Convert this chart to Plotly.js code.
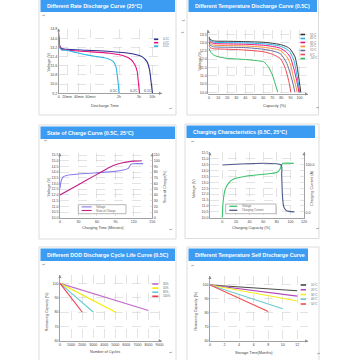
<!DOCTYPE html>
<html><head><meta charset="utf-8">
<script src="https://cdn.plot.ly/plotly-3.0.1.min.js"></script>
<style>html,body{margin:0;padding:0;background:#fff}#c{width:360px;height:360px}</style>
</head><body><div id="c"></div>
<script>
// ---------- Panel 1: Different Rate Discharge Curve (25°C) ----------
const rateLabels = ['0.1C', '0.2C', '0.5C'];
const rateT01 = [0, 1, 3, 8.5, 30, 55, 80, 89, 94.4, 97.2, 98.6, 100.3];
const rateV01 = [14.2, 13.4, 13.1, 13.04, 12.95, 12.84, 12.63, 12.4, 11.96, 11.24, 10.36, 9.2];
const rateT02 = [0, 1, 3, 10, 30, 55, 70, 77, 81.6, 84, 85, 86.4];
const rateV02 = [14.5, 13.3, 13.05, 12.95, 12.84, 12.69, 12.46, 12.17, 11.67, 11.1, 10.36, 9.2];
const rateT05 = [0, 1, 3, 8.5, 19, 30, 40.7, 51.4, 58.5, 61.3, 62.8, 64, 64.6];
const rateV05 = [14.0, 13.2, 12.98, 12.95, 12.75, 12.55, 12.4, 12.25, 11.96, 11.5, 10.65, 9.8, 9.2];
const rateTickVals = [0, 9, 21.5, 34, 64.5, 86, 100];
const rateTickText = ['0', '20min', '40min', '60min', '2h', '5h', '10h'];

// ---------- Panel 2: Different Temperature Discharge Curve (0.5C) ----------
const tempLabels = ['55°C', '45°C', '35°C', '25°C', '15°C', '0°C', '-10°C'];
const cap55 = [0, 1, 5, 20, 40, 60, 70, 79, 86, 90, 95, 97, 99, 101.5];
const v55 = [13.35, 13.2, 13.1, 13.08, 13.06, 13.02, 12.96, 12.88, 12.75, 12.6, 12.15, 11.7, 11.0, 10.0];
const cap45 = [0, 1, 5, 20, 40, 60, 70, 79, 86, 90, 94, 97, 100.5];
const v45 = [13.3, 13.12, 13.03, 13.0, 12.98, 12.93, 12.87, 12.78, 12.6, 12.4, 11.9, 11.1, 10.0];
const cap35 = [0, 1, 5, 20, 40, 60, 70, 79, 86, 90, 94, 97, 99.5];
const v35 = [13.25, 13.05, 12.95, 12.92, 12.9, 12.84, 12.77, 12.66, 12.4, 12.1, 11.4, 10.7, 10.0];
const cap25 = [0, 1, 5, 20, 40, 60, 70, 79, 86, 90, 93, 95.5, 97.5];
const v25 = [13.15, 12.95, 12.85, 12.82, 12.8, 12.72, 12.64, 12.52, 12.15, 11.7, 11.0, 10.5, 10.0];
const cap15 = [0, 1, 5, 20, 40, 60, 70, 79, 86, 90, 93, 95];
const v15 = [13.05, 12.85, 12.75, 12.72, 12.7, 12.6, 12.5, 12.33, 11.75, 11.1, 10.5, 10.0];
const cap0 = [0, 1, 5, 20, 40, 60, 70, 79, 84, 86, 88.5, 90.5];
const v0 = [12.85, 12.7, 12.63, 12.6, 12.55, 12.45, 12.3, 12.03, 11.5, 11.15, 10.6, 10.0];
const capM10 = [0, 2, 5, 10, 20, 40, 55, 60, 63, 66, 70, 73, 76];
const vM10 = [12.65, 12.4, 12.25, 12.15, 12.05, 11.98, 11.9, 11.85, 11.72, 11.5, 11.05, 10.55, 10.0];

// ---------- Panel 3: State of Charge Curve (0.5C, 25°C) ----------
const socLabels = ['Voltage', 'State of Charge'];
const socTimeV = [0, 1, 3, 5.4, 10.8, 30, 60, 86.6, 103, 111, 115, 119, 135];
const socVolt = [12.57, 13.0, 13.4, 13.6, 13.71, 13.83, 13.95, 14.04, 14.18, 14.33, 14.68, 14.74, 14.74];
const socTimeS = [0, 30, 60, 80, 90, 100, 110, 120, 133];
const socPct = [40, 58, 76, 88, 93, 96, 98, 99.3, 100];

// ---------- Panel 4: Charging Characteristics (0.5C, 25°C) ----------
const chgLabels = ['Voltage', 'Charging Current'];
const chgCapV = [0, 0.8, 1.5, 4, 9, 16, 36, 60, 80, 84, 86, 87, 89, 105];
const chgVolt = [10.0, 11.0, 11.5, 12.36, 12.93, 13.27, 13.55, 13.7, 13.84, 14.06, 14.3, 14.5, 14.63, 14.63];
const chgCapI = [0, 86.5, 87.2, 87.8, 88.5, 90.2, 92, 94.1, 98, 106];
const chgCurr = [100, 100, 80, 54, 32, 12, 7, 3.5, 2, 1];

// ---------- Panel 5: Different DOD Discharge Cycle Life Curve (0.5C) ----------
const dodLabels = ['30%', '50%', '80%', '100%'];
const dodCycles = [[0, 8000], [0, 5000], [0, 3000], [0, 2000]];
const dodCap = [[100, 81], [100, 80], [100, 80], [100, 80]];

// ---------- Panel 6: Different Temperature Self Discharge Curve ----------
const sdLabels = ['10°C', '20°C', '30°C', '40°C', '50°C'];
const sdMonths = [[0, 12], [0, 12], [0, 12], [0, 10], [0, 8]];
const sdCap = [[100, 95.9], [100, 92], [100, 88.6], [100, 83], [100, 81.1]];

// ---------- helpers ----------
const P = v => v / 360, Q = v => 1 - v / 360;
const FONT = 'Liberation Sans, Arial, sans-serif';
const TICKF = {family: FONT, size: 3.6, color: '#444'};
const AXC = '#8a8a8a';
function xax(x0, x1, yBottom, anchor, extra) {
  return Object.assign({domain: [P(x0), P(x1)], anchor: anchor, showline: true, linecolor: AXC, linewidth: 0.8,
    zeroline: false, showgrid: true, gridcolor: '#c8c8c8', gridwidth: 0.5, griddash: 'dash', ticks: '',
    tickfont: TICKF, tickangle: 0, fixedrange: true}, extra);
}
function yax(yTop, yBottom, anchor, extra) {
  return Object.assign({domain: [Q(yBottom), Q(yTop)], anchor: anchor, showline: true, linecolor: AXC, linewidth: 0.8,
    zeroline: false, showgrid: true, gridcolor: '#c8c8c8', gridwidth: 0.5, griddash: 'dash', ticks: '',
    tickfont: TICKF, fixedrange: true}, extra);
}
function ln(x, y, color, xa, ya, w, name) {
  return {x: x, y: y, type: 'scatter', mode: 'lines', xaxis: xa, yaxis: ya, name: name, showlegend: false,
    hoverinfo: 'skip', line: {color: color, width: w || 1.1, shape: 'spline', smoothing: 0.6}};
}
const shapes = [], annotations = [];
function card(x0, y0, x1, y1, hx1, title) {
  shapes.push({type: 'rect', xref: 'paper', yref: 'paper', x0: P(x0), x1: P(x1), y0: Q(y1), y1: Q(y0),
    line: {color: '#dcdcdc', width: 1}, fillcolor: 'rgba(0,0,0,0)', layer: 'below'});
  shapes.push({type: 'rect', xref: 'paper', yref: 'paper', x0: P(x0 + 1.5), x1: P(hx1), y0: Q(y0 + 14), y1: Q(y0 + 1.5),
    line: {width: 0}, fillcolor: '#3b9cf2', layer: 'below'});
  annotations.push({xref: 'paper', yref: 'paper', x: P(x0 + 5.5), y: Q(y0 + 8), xanchor: 'left', yanchor: 'middle',
    text: '<b>' + title + '</b>', showarrow: false, font: {family: FONT, size: 5.3, color: '#fff'}});
}
function arrowUp(x, y) {
  shapes.push({type: 'path', xref: 'paper', yref: 'paper',
    path: `M${P(x - 1.6)},${Q(y + 3)} L${P(x)},${Q(y)} L${P(x + 1.6)},${Q(y + 3)} Z`, fillcolor: AXC, line: {width: 0}});
}
function arrowRight(x, y) {
  shapes.push({type: 'path', xref: 'paper', yref: 'paper',
    path: `M${P(x - 3)},${Q(y - 1.6)} L${P(x)},${Q(y)} L${P(x - 3)},${Q(y + 1.6)} Z`, fillcolor: AXC, line: {width: 0}});
}
function txt(x, y, s, size, color, angle, anchor) {
  annotations.push({xref: 'paper', yref: 'paper', x: P(x), y: Q(y), text: s, showarrow: false, textangle: angle || 0,
    xanchor: anchor || 'center', yanchor: 'middle', font: {family: FONT, size: size, color: color || '#444'}});
}
function legItem(x0, x1, y, color, label, w) {
  shapes.push({type: 'line', xref: 'paper', yref: 'paper', x0: P(x0), x1: P(x1), y0: Q(y), y1: Q(y),
    line: {color: color, width: w || 1.6}});
  txt(x1 + 2.5, y, label, 2.8, '#666', 0, 'left');
}

const traces = [];
// Panel 1
const rateColors = ['#2e2f8f', '#e8137f', '#2cb5e8'];
traces.push(ln(rateT01, rateV01, rateColors[0], 'x', 'y', 1.1, rateLabels[0]));
traces.push(ln(rateT02, rateV02, rateColors[1], 'x', 'y', 1.1, rateLabels[1]));
traces.push(ln(rateT05, rateV05, rateColors[2], 'x', 'y', 1.1, rateLabels[2]));
// Panel 2
const tempColors = ['#333333', '#1fb2e8', '#e6157f', '#f6902a', '#5f6ea0', '#f0454f', '#2dbb5e'];
const tempCaps = [cap55, cap45, cap35, cap25, cap15, cap0, capM10];
const tempVs = [v55, v45, v35, v25, v15, v0, vM10];
tempCaps.forEach((c, i) => traces.push(ln(c, tempVs[i], tempColors[i], 'x2', 'y2', 1.0, tempLabels[i])));
// Panel 3
const socColors = ['#8a7bea', '#c2208a'];
traces.push(ln(socTimeV, socVolt, socColors[0], 'x3', 'y3', 1.1, socLabels[0]));
traces.push(ln(socTimeS, socPct, socColors[1], 'x3', 'y7', 1.1, socLabels[1]));
// Panel 4
const chgColors = ['#39c46c', '#4d5b8c'];
traces.push(ln(chgCapV, chgVolt, chgColors[0], 'x4', 'y4', 1.1, chgLabels[0]));
traces.push(ln(chgCapI, chgCurr, chgColors[1], 'x4', 'y8', 1.1, chgLabels[1]));
// Panel 5
const dodColors = ['#c26ac8', '#f5ea00', '#62cbd2', '#ee3a48'];
dodCycles.forEach((c, i) => traces.push(ln(c, dodCap[i], dodColors[i], 'x5', 'y5', 1.1, dodLabels[i])));
// Panel 6
const sdColors = ['#4a4a4a', '#b04ab8', '#f7ec1a', '#6ccad0', '#f24a4a'];
sdMonths.forEach((m, i) => traces.push(ln(m, sdCap[i], sdColors[i], 'x6', 'y6', 1.1, sdLabels[i])));

// cards & titles
card(39, -2, 176, 115, 175, 'Different Rate Discharge Curve (25°C)');
card(187, -2, 318.5, 115, 317, 'Different Temperature Discharge Curve (0.5C)');
card(39, 125, 176, 239, 175, 'State of Charge Curve (0.5C, 25°C)');
card(185, 124, 319, 238.5, 315, 'Charging Characteristics (0.5C, 25°C)');
card(39, 247, 176, 370, 175, 'Different DOD Discharge Cycle Life Curve (0.5C)');
card(187, 247, 319, 370, 308, 'Different Temperature Self Discharge Curve');

// arrows
arrowUp(58.7, 28.5); arrowRight(162, 93.3);
arrowUp(208.3, 30); arrowRight(308, 94);
arrowUp(60, 153.3); arrowUp(152.3, 153.3);
arrowUp(210, 152.3); arrowUp(304, 152.3);
arrowUp(60, 275); arrowRight(161.7, 340.7);
arrowUp(210, 276); arrowRight(308.2, 341);

// axis titles
txt(48.5, 62, 'Voltage (V)', 3.8, '#444', -90);
txt(105, 105.5, 'Discharge Time', 4, '#444');
txt(199.5, 61, 'Voltage (V)', 3.8, '#444', -90);
txt(275, 105.5, 'Capacity (%)', 4, '#444');
txt(48.5, 187, 'Voltage (V)', 3.8, '#444', -90);
txt(165, 187, 'State of Charge(%)', 3.8, '#444', -90);
txt(103, 228, 'Charging Time (Minutes)', 3.8, '#444');
txt(194, 188, 'Voltage (V)', 3.8, '#444', -90);
txt(312, 188, 'Charging Current (A)', 3.8, '#444', -90);
txt(251, 228, 'Charging Capacity (%)', 3.8, '#444');
txt(46.7, 311.5, 'Remaining Capacity (%)', 3.6, '#444', -90);
txt(105, 351.7, 'Number of Cycles', 3.8, '#444');
txt(195, 311.5, 'Remaining Capacity (%)', 3.6, '#444', -90);
txt(254, 353.3, 'Storage Time(Months)', 3.8, '#444');

// curve labels panel 1
const rateEndLabels = ['0.5C', '0.2C', '0.1C'];
const rateEndPos = [59.5, 80.9, 95.2];
rateEndLabels.forEach((s, i) => annotations.push({xref: 'x', yref: 'y', x: rateEndPos[i], y: 9.38, text: s, showarrow: false,
  xanchor: 'center', yanchor: 'middle', font: {family: FONT, size: 3.6, color: '#444'}}));

// legends
rateLabels.forEach((s, i) => legItem(154, 158.3, 39.3 + i * 3.4, rateColors[i], s));
tempLabels.forEach((s, i) => legItem(300.5, 305, 34.5 + i * 4, tempColors[i], s));
shapes.push({type: 'rect', xref: 'paper', yref: 'paper', x0: P(78.3), x1: P(126), y0: Q(213.7), y1: Q(204.7),
  line: {color: '#888', width: 0.6}, fillcolor: '#fff'});
socLabels.forEach((s, i) => legItem(81.7, 91.7, 206.9 + i * 3.6, socColors[i], s, 1.1));
shapes.push({type: 'rect', xref: 'paper', yref: 'paper', x0: P(225.7), x1: P(276), y0: Q(213.7), y1: Q(204),
  line: {color: '#888', width: 0.6}, fillcolor: '#fff'});
chgLabels.forEach((s, i) => legItem(229.3, 237.3, 206.3 + i * 4, chgColors[i], s, 1.3));
dodLabels.forEach((s, i) => legItem(152.3, 158.3, 284 + i * 4.1, dodColors[i], s));
sdLabels.forEach((s, i) => legItem(300.7, 306, 285 + i * 4.75, sdColors[i], s));

// paragraph marks
[[43, 16], [170, 108], [183, 20], [182, 32], [317, 107], [45, 141], [170, 230], [192, 142], [317, 228],
 [43, 264], [170, 352], [192, 265], [318, 353]].forEach(p => txt(p[0], p[1], '↵', 4, '#888'));

const layout = {
  width: 360, height: 360, margin: {l: 0, r: 0, t: 0, b: 0}, paper_bgcolor: '#fff', plot_bgcolor: 'rgba(0,0,0,0)',
  showlegend: false, font: {family: FONT},
  xaxis: xax(58.7, 162, 93.3, 'y', {range: [0, 110.5], tickvals: rateTickVals, ticktext: rateTickText}),
  yaxis: yax(28.5, 93.3, 'x', {range: [9.2, 14.85], tick0: 9.2, dtick: 0.8, tickformat: '.1f'}),
  xaxis2: xax(208.3, 308, 94, 'y2', {range: [-0.9, 109.5], tick0: 0, dtick: 10}),
  yaxis2: yax(30, 94, 'x2', {range: [9.9, 13.76], tick0: 10, dtick: 0.5, tickformat: '.1f'}),
  xaxis3: xax(60, 152.3, 217.7, 'y3', {range: [0, 150], tick0: 0, dtick: 30}),
  yaxis3: yax(153.3, 217.7, 'x3', {range: [10, 15.65], tick0: 10, dtick: 0.5, tickformat: '.1f'}),
  yaxis7: {overlaying: 'y3', side: 'right', anchor: 'x3', range: [0, 113], tick0: 0, dtick: 10, showgrid: false,
    zeroline: false, showline: true, linecolor: AXC, linewidth: 0.8, ticks: '', tickfont: TICKF, fixedrange: true},
  xaxis4: xax(210, 304, 217.7, 'y4', {range: [-18, 120], tickvals: [0, 20, 40, 60, 80, 100, 120]}),
  yaxis4: yax(152.3, 217.7, 'x4', {range: [10, 15.57], tick0: 10, dtick: 0.5, tickformat: '.1f'}),
  yaxis8: {overlaying: 'y4', side: 'right', anchor: 'x4', range: [-11.4, 126.8], tickvals: [0, 100], ticktext: ['0.0', '100.0'],
    showgrid: false, zeroline: false, showline: true, linecolor: AXC, linewidth: 0.8, ticks: '', tickfont: TICKF, fixedrange: true},
  xaxis5: xax(60, 161.7, 340.7, 'y5', {range: [0, 9200], tick0: 0, dtick: 1000}),
  yaxis5: yax(275, 340.7, 'x5', {range: [60, 105.8], tick0: 60, dtick: 10}),
  xaxis6: xax(210, 308.2, 341, 'y6', {range: [0, 13.5], tick0: 0, dtick: 2}),
  yaxis6: yax(276, 341, 'x6', {range: [60, 106.4], tick0: 60, dtick: 10}),
  shapes: shapes, annotations: annotations
};
Plotly.newPlot('c', traces, layout, {staticPlot: true, displayModeBar: false});
</script></body></html>
